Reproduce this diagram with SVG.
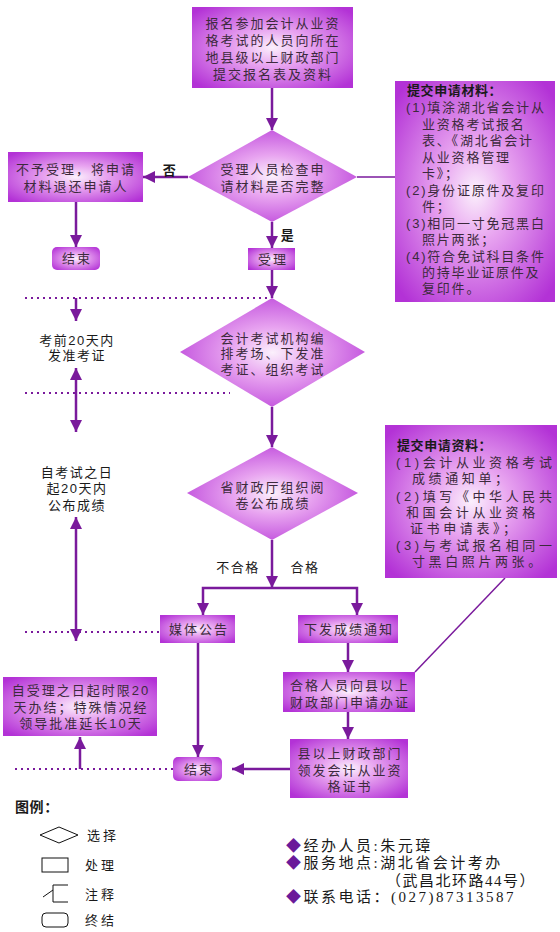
<svg xmlns="http://www.w3.org/2000/svg" width="560" height="932" viewBox="0 0 560 932">
<defs>
<radialGradient id="g" cx="50%" cy="50%" r="65%">
<stop offset="0" stop-color="#fbf0fc"/>
<stop offset="0.35" stop-color="#e8a4f0"/>
<stop offset="1" stop-color="#b332d6"/>
</radialGradient>
<marker id="arr" viewBox="0 0 12 12" markerWidth="12" markerHeight="12" refX="12" refY="6" orient="auto-start-reverse" markerUnits="userSpaceOnUse">
<path d="M0,0 L12,6 L0,12 z" fill="#7a1a9c"/>
</marker>
<style>
.n{fill:url(#g);}
.t{font-family:"Liberation Sans","Noto Sans CJK SC",sans-serif;font-size:13px;letter-spacing:2px;fill:#3c2a3c;text-anchor:middle;dominant-baseline:central;}
.a{font-family:"Liberation Sans","Noto Sans CJK SC",sans-serif;font-size:13px;letter-spacing:1.8px;fill:#3c2a3c;dominant-baseline:central;}
.h{font-family:"Liberation Sans","Noto Sans CJK SC",sans-serif;font-size:13px;font-weight:bold;letter-spacing:0.6px;fill:#1a1a1a;dominant-baseline:central;}
.l{font-family:"Liberation Sans","Noto Sans CJK SC",sans-serif;font-size:13px;letter-spacing:1.5px;fill:#1a1a1a;text-anchor:middle;dominant-baseline:central;}
.c{fill:none;stroke:#7a1a9c;stroke-width:2.5;}
.thin{fill:none;stroke:#7a1a9c;stroke-width:1.5;}
.d{fill:none;stroke:#7a1a9c;stroke-width:2;stroke-dasharray:2 4;}
.lg{fill:none;stroke:#111;stroke-width:1;}
.f{font-family:"Liberation Serif","Noto Sans CJK SC",serif;font-size:15px;letter-spacing:2.5px;fill:#1a1a1a;}
.b{fill:#6a1a9a;}
</style>
</defs>
<rect width="560" height="932" fill="#fff"/>

<g id="connectors">
<path class="c" d="M272,88 V130" marker-end="url(#arr)"/>
<path class="c" d="M188,177 H143" marker-end="url(#arr)"/>
<path class="c" d="M76,202 V247" marker-end="url(#arr)"/>
<path class="c" d="M272,222 V248" marker-end="url(#arr)"/>
<path class="c" d="M272,270 V298" marker-end="url(#arr)"/>
<path class="thin" d="M357,177 H395"/>
<path class="c" d="M272,407 V447" marker-end="url(#arr)"/>
<path class="c" d="M272,540 V588" marker-end="url(#arr)"/>
<path class="c" d="M272,588 H203 V615" marker-end="url(#arr)"/>
<path class="c" d="M272,588 H357 V615" marker-end="url(#arr)"/>
<path class="c" d="M198,643 V757" marker-end="url(#arr)"/>
<path class="c" d="M348,643 V672" marker-end="url(#arr)"/>
<path class="c" d="M348,712 V739" marker-end="url(#arr)"/>
<path class="c" d="M290,769 H232" marker-end="url(#arr)"/>
<path class="thin" d="M505,578 L415,672"/>
<path class="c" d="M76,298 V321" marker-end="url(#arr)"/>
<path class="c" d="M76,368 V432" marker-start="url(#arr)" marker-end="url(#arr)"/>
<path class="c" d="M76,517 V641" marker-start="url(#arr)" marker-end="url(#arr)"/>
<path class="c" d="M80,769 V737" marker-end="url(#arr)"/>
<path class="d" d="M25,298 H270"/>
<path class="d" d="M25,393 H230"/>
<path class="d" d="M25,632 H160"/>
<path class="d" d="M15,769 H173"/>
<text class="l" x="170" y="170" style="font-weight:bold">否</text>
<text class="l" x="288" y="235" style="font-weight:bold">是</text>
<text class="l" x="238" y="567">不合格</text>
<text class="l" x="305" y="567">合格</text>
</g>

<g id="n-start">
<rect class="n" x="192" y="7" width="161" height="81"/>
<text class="t" x="273" y="23">报名参加会计从业资</text>
<text class="t" x="273" y="40">格考试的人员向所在</text>
<text class="t" x="273" y="57">地县级以上财政部门</text>
<text class="t" x="273" y="74">提交报名表及资料</text>
</g>

<g id="n-check">
<polygon class="n" points="272,130 357,177 272,222 188,177"/>
<text class="t" x="273" y="169">受理人员检查申</text>
<text class="t" x="273" y="186">请材料是否完整</text>
</g>

<g id="n-reject">
<rect class="n" x="8" y="152" width="135" height="50"/>
<text class="t" x="76" y="169">不予受理，将申请</text>
<text class="t" x="76" y="186">材料退还申请人</text>
</g>

<g id="n-end1">
<rect class="n" x="52" y="247" width="48" height="23" rx="5"/>
<text class="t" x="77" y="258">结束</text>
</g>

<g id="n-accept">
<rect class="n" x="248" y="248" width="47" height="22"/>
<text class="t" x="273" y="259">受理</text>
</g>

<g id="n-note1">
<rect class="n" x="395" y="81" width="160" height="221"/>
<text class="h" x="407" y="90">提交申请材料：</text>
<text class="a" x="406" y="107">(1)填涂湖北省会计从</text>
<text class="a" x="422" y="124">业资格考试报名</text>
<text class="a" x="422" y="140">表、《湖北省会计</text>
<text class="a" x="422" y="157">从业资格管理</text>
<text class="a" x="422" y="173">卡》；</text>
<text class="a" x="406" y="190">(2)身份证原件及复印</text>
<text class="a" x="422" y="206">件；</text>
<text class="a" x="406" y="223">(3)相同一寸免冠黑白</text>
<text class="a" x="422" y="239">照片两张；</text>
<text class="a" x="406" y="256">(4)符合免试科目条件</text>
<text class="a" x="422" y="272">的持毕业证原件及</text>
<text class="a" x="422" y="288">复印件。</text>
</g>

<g id="n-note-admit">
<text class="l" x="77" y="340">考前20天内</text>
<text class="l" x="77" y="355">发准考证</text>
</g>

<g id="n-exam">
<polygon class="n" points="272,298 365,352 272,407 180,352"/>
<text class="t" x="273" y="338">会计考试机构编</text>
<text class="t" x="273" y="353">排考场、下发准</text>
<text class="t" x="273" y="369">考证、组织考试</text>
</g>

<g id="n-note-score">
<text class="l" x="77" y="472">自考试之日</text>
<text class="l" x="77" y="488">起20天内</text>
<text class="l" x="77" y="505">公布成绩</text>
</g>

<g id="n-grade">
<polygon class="n" points="272,447 358,493 272,540 187,493"/>
<text class="t" x="273" y="487">省财政厅组织阅</text>
<text class="t" x="273" y="503">卷公布成绩</text>
</g>

<g id="n-note2">
<rect class="n" x="385" y="425" width="172" height="153"/>
<text class="h" x="397" y="445">提交申请资料：</text>
<text class="a" x="396" y="462" style="letter-spacing:3.6px">(1)会计从业资格考试</text>
<text class="a" x="412" y="478" style="letter-spacing:3.6px">成绩通知单；</text>
<text class="a" x="396" y="496" style="letter-spacing:3.6px">(2)填写《中华人民共</text>
<text class="a" x="406" y="512" style="letter-spacing:3.6px">和国会计从业资格</text>
<text class="a" x="410" y="528" style="letter-spacing:3.6px">证书申请表》；</text>
<text class="a" x="396" y="545" style="letter-spacing:3.6px">(3)与考试报名相同一</text>
<text class="a" x="412" y="561" style="letter-spacing:3.6px">寸黑白照片两张。</text>
</g>

<g id="n-media">
<rect class="n" x="160" y="615" width="75" height="28"/>
<text class="t" x="199" y="629">媒体公告</text>
</g>

<g id="n-notice">
<rect class="n" x="298" y="615" width="100" height="28"/>
<text class="t" x="349" y="629">下发成绩通知</text>
</g>

<g id="n-apply">
<rect class="n" x="283" y="672" width="132" height="40"/>
<text class="t" x="350" y="685">合格人员向县以上</text>
<text class="t" x="350" y="702">财政部门申请办证</text>
</g>

<g id="n-issue">
<rect class="n" x="290" y="739" width="118" height="59"/>
<text class="t" x="350" y="753">县以上财政部门</text>
<text class="t" x="350" y="770">领发会计从业资</text>
<text class="t" x="350" y="786">格证书</text>
</g>

<g id="n-end2">
<rect class="n" x="173" y="757" width="49" height="24" rx="5"/>
<text class="t" x="199" y="769">结束</text>
</g>

<g id="n-note-limit">
<rect class="n" x="3" y="677" width="154" height="59"/>
<text class="t" x="81" y="690">自受理之日起时限20</text>
<text class="t" x="81" y="707">天办结；特殊情况经</text>
<text class="t" x="81" y="723">领导批准延长10天</text>
</g>

<g id="legend">
<text class="h" x="15" y="807" style="font-size:14px">图例：</text>
<polygon class="lg" points="40,835 59,827 78,835 59,843"/>
<text class="l" x="103" y="835" style="letter-spacing:3px">选择</text>
<rect class="lg" x="42" y="858" width="26" height="14"/>
<text class="l" x="101" y="865" style="letter-spacing:3px">处理</text>
<path class="lg" d="M68,885 H53 V902 H68 M53,890 L43,897"/>
<text class="l" x="101" y="894" style="letter-spacing:3px">注释</text>
<rect class="lg" x="42" y="913" width="26" height="14" rx="4"/>
<text class="l" x="101" y="920" style="letter-spacing:3px">终结</text>
</g>

<g id="footer">
<text class="f" x="286" y="851"><tspan class="b">◆</tspan>经办人员:朱元璋</text>
<text class="f" x="286" y="868"><tspan class="b">◆</tspan>服务地点:湖北省会计考办</text>
<text class="f" x="386" y="886" style="letter-spacing:1.5px">（武昌北环路44号）</text>
<text class="f" x="286" y="902"><tspan class="b">◆</tspan>联系电话：(027)87313587</text>
</g>
</svg>
